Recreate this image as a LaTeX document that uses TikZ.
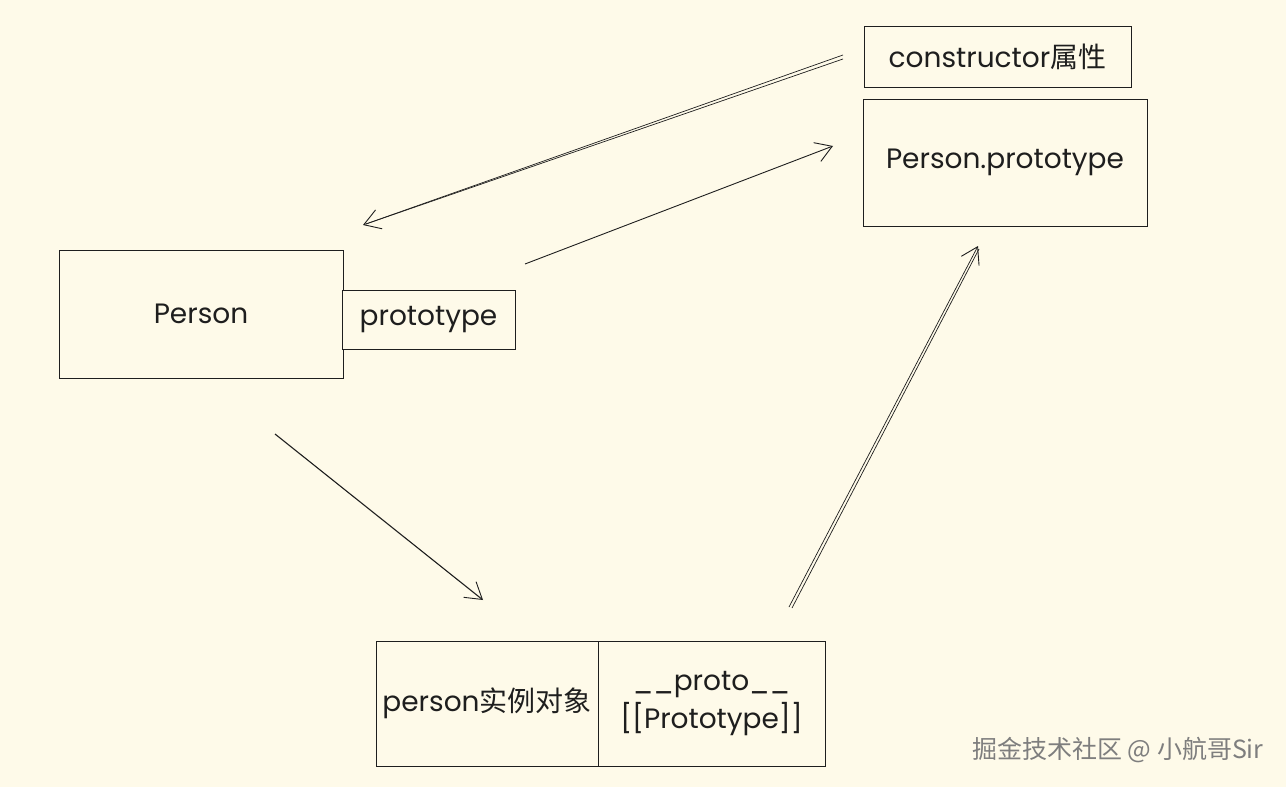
\documentclass[tikz,border=0pt]{standalone}
\usepackage{fontspec}
\setmainfont{Poppins}
\newfontfamily\cjk{Noto Sans CJK SC}
\usetikzlibrary{arrows.meta}
\definecolor{bg}{HTML}{FEFAE9}
\definecolor{ink}{HTML}{1E1E1E}
\definecolor{wm}{HTML}{7E7E7E}
\tikzset{
  box/.style={draw=ink, line width=0.9pt, fill=bg, inner sep=0pt, font=\fontsize{28}{31}\selectfont, text=ink, align=center},
  conn/.style={draw=ink, line width=0.9pt},
  head/.style={-{Straight Barb[length=16pt,width=20pt,line width=0.9pt]}},
}
\begin{document}
\begin{tikzpicture}[x=1pt,y=-1pt]
\fill[bg] (0,0) rectangle (1286,787);
\useasboundingbox (0,0) rectangle (1286,787);

\node[box, minimum width=267pt, minimum height=61pt] (ctor) at (997.5,56.5) {constructor{\cjk 属性}};
\node[box, minimum width=284pt, minimum height=127pt] (pp) at (1005,162.5) {Person.prototype};
\node[box, minimum width=284pt, minimum height=128pt] (person) at (201,314) {Person};
\node[box, minimum width=173pt, minimum height=59pt] (proto) at (428.5,319.5) {prototype};
\node[box, minimum width=222pt, minimum height=125pt] (inst) at (487,703.5) {person{\cjk 实例对象}};
\node[box, minimum width=227pt, minimum height=125pt] (dunder) at (711.5,703.5) {\_\_proto\_\_\\[4pt][[Prototype]]};

\node[font=\cjk\fontsize{25}{28}\selectfont, text=wm, anchor=east] (wmark) at (1267,750) {掘金技术社区 @ 小航哥Sir};

% constructor -> Person (double sketch line)
\coordinate (c1s) at (843,55);
\coordinate (c2s) at (843,59);
\coordinate (c1e) at (363,225);
\coordinate (c2e) at (366,224);
\draw[conn, line width=0.7pt] (c2s) -- (c2e);
\draw[conn, line width=0.7pt, head] (c1s) -- (c1e);

% prototype -> Person.prototype
\coordinate (p1s) at (525,264);
\coordinate (p1e) at (833,146);
\draw[conn, head] (p1s) -- (p1e);

% Person -> instance
\coordinate (i1s) at (275,434);
\coordinate (i1e) at (483,600);
\draw[conn, line width=1.1pt, head] (i1s) -- (i1e);

% __proto__ -> Person.prototype (double sketch line)
\coordinate (d1s) at (789,607);
\coordinate (d2s) at (792,608);
\coordinate (d1e) at (978,246);
\coordinate (d2e) at (979,249);
\draw[conn, line width=0.7pt] (d2s) -- (d2e);
\draw[conn, line width=0.7pt, head] (d1s) -- (d1e);
\end{tikzpicture}
\end{document}
